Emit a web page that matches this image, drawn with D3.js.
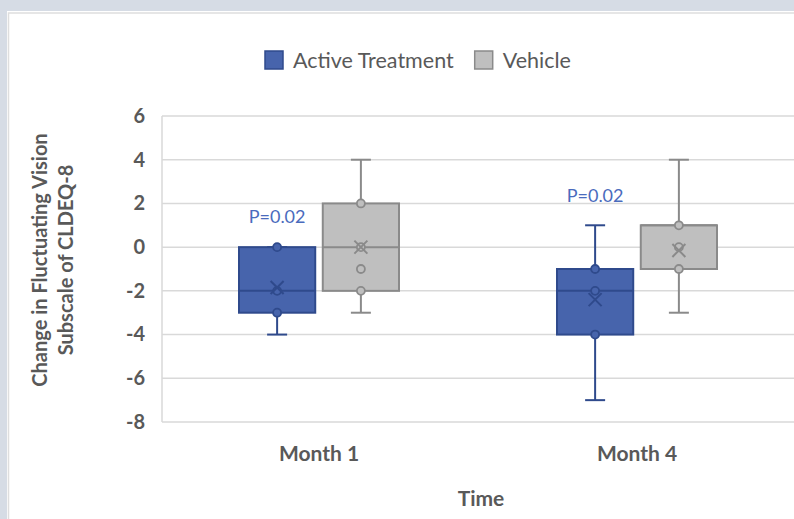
<!DOCTYPE html>
<html>
<head>
<meta charset="utf-8">
<script src="https://cdn.jsdelivr.net/npm/d3@7"></script>
<style>
  body { margin: 0; background: #d6dce5; }
  svg { display: block; }
</style>
</head>
<body>
<svg id="chart" width="794" height="519"></svg>
<script>
// Data
const categories = ["Month 1", "Month 4"];
const series = ["Active Treatment", "Vehicle"];
const yTicks = [6, 4, 2, 0, -2, -4, -6, -8];

const activeMin = [-4, -7];
const activeQ1 = [-3, -4];
const activeMedian = [-2, -2];
const activeQ3 = [0, -1];
const activeMax = [0, 1];
const activeMean = [-1.85, -2.4];
const activePoints = [[0, -2, -3], [-1, -2, -4]];

const vehicleMin = [-3, -3];
const vehicleQ1 = [-2, -1];
const vehicleMedian = [0, 1];
const vehicleQ3 = [2, 1];
const vehicleMax = [4, 4];
const vehicleMean = [0, -0.15];
const vehiclePoints = [[2, 0, -1, -2], [1, 0, -1]];

const pLabels = ["P=0.02", "P=0.02"];

const colors = {
    "Active Treatment": { fill: "#4764ac", stroke: "#2f4a8c" },
    "Vehicle": { fill: "#bfbfbf", stroke: "#8a8a8a" }
};

const font = "Lato, 'Open Sans', sans-serif";
const svg = d3.select("#chart");

// Panel
svg.append("rect").attr("x", 7).attr("y", 11).attr("width", 800).attr("height", 520).attr("fill", "#fff");
svg.append("rect").attr("x", 8.5).attr("y", 13).attr("width", 800).attr("height", 520)
    .attr("fill", "#fff").attr("stroke", "#dedede").attr("stroke-width", 1.5);

// Scales
const x = d3.scaleBand().domain(categories).range([160, 796]);
const y = d3.scaleLinear().domain([-8, 6]).range([422, 116]);
const xs = d3.scaleBand().domain(series).range([-80, 80]).paddingInner(0.09);

// Gridlines
svg.append("g").selectAll("line")
    .data(yTicks)
    .join("line")
    .attr("x1", 162).attr("x2", 800)
    .attr("y1", d => y(d)).attr("y2", d => y(d))
    .attr("stroke", "#d9d9d9").attr("stroke-width", 1.5);
svg.append("line").attr("x1", 162).attr("x2", 162)
    .attr("y1", y(6)).attr("y2", y(-8))
    .attr("stroke", "#d9d9d9").attr("stroke-width", 1.5);

// Y axis labels
const yAxis = svg.append("g")
    .attr("transform", "translate(152,0)")
    .call(d3.axisLeft(y).tickValues(yTicks).tickSize(0).tickPadding(0).tickFormat(d => String(d)));
yAxis.select(".domain").remove();
yAxis.selectAll("text")
    .attr("font-family", font).attr("font-size", 20).attr("font-weight", "bold")
    .attr("fill", "#595959").attr("dx", -7);

// X axis labels
const xAxis = svg.append("g")
    .attr("transform", "translate(0,446)")
    .call(d3.axisBottom(x).tickSize(0).tickPadding(0));
xAxis.select(".domain").remove();
xAxis.selectAll("text")
    .attr("font-family", font).attr("font-size", 21).attr("font-weight", "bold")
    .attr("fill", "#595959").attr("dy", "0.71em");

// Axis titles
svg.append("text")
    .attr("x", 481).attr("y", 506)
    .attr("text-anchor", "middle")
    .attr("font-family", font).attr("font-size", 21).attr("font-weight", "bold")
    .attr("fill", "#595959")
    .text("Time");

const yTitle = svg.append("text")
    .attr("transform", "translate(0,260) rotate(-90)")
    .attr("text-anchor", "middle")
    .attr("font-family", font).attr("font-size", 20).attr("font-weight", "bold")
    .attr("fill", "#595959");
yTitle.append("tspan").attr("x", 0).attr("y", 47).text("Change in Fluctuating Vision");
yTitle.append("tspan").attr("x", 0).attr("y", 73).text("Subscale of CLDEQ-8");

// Box data rows
const rows = [];
categories.forEach((c, i) => {
    rows.push({ cat: c, s: "Active Treatment", min: activeMin[i], q1: activeQ1[i], med: activeMedian[i],
        q3: activeQ3[i], max: activeMax[i], mean: activeMean[i], pts: activePoints[i] });
    rows.push({ cat: c, s: "Vehicle", min: vehicleMin[i], q1: vehicleQ1[i], med: vehicleMedian[i],
        q3: vehicleQ3[i], max: vehicleMax[i], mean: vehicleMean[i], pts: vehiclePoints[i] });
});

const cx = d => x(d.cat) + x.bandwidth() / 2 + xs(d.s) + xs.bandwidth() / 2;
const bw = xs.bandwidth();

const box = svg.append("g").selectAll("g")
    .data(rows)
    .join("g");

// Whiskers
box.append("line")
    .attr("x1", cx).attr("x2", cx)
    .attr("y1", d => y(d.max)).attr("y2", d => y(d.min))
    .attr("stroke", d => colors[d.s].stroke).attr("stroke-width", 2);
box.selectAll(".cap")
    .data(d => [d.min, d.max].map(v => ({ v, d })))
    .join("line")
    .attr("x1", o => cx(o.d) - 10).attr("x2", o => cx(o.d) + 10)
    .attr("y1", o => y(o.v)).attr("y2", o => y(o.v))
    .attr("stroke", o => colors[o.d.s].stroke).attr("stroke-width", 2);

// Box
box.append("rect")
    .attr("x", d => cx(d) - bw / 2).attr("width", bw)
    .attr("y", d => y(d.q3)).attr("height", d => y(d.q1) - y(d.q3))
    .attr("fill", d => colors[d.s].fill)
    .attr("stroke", d => colors[d.s].stroke).attr("stroke-width", 2);

// Median
box.append("line")
    .attr("x1", d => cx(d) - bw / 2).attr("x2", d => cx(d) + bw / 2)
    .attr("y1", d => y(d.med)).attr("y2", d => y(d.med))
    .attr("stroke", d => colors[d.s].stroke).attr("stroke-width", 2);

// Points
box.selectAll("circle")
    .data(d => d.pts.map(v => ({ v, d })))
    .join("circle")
    .attr("cx", o => cx(o.d)).attr("cy", o => y(o.v)).attr("r", 4)
    .attr("fill", o => colors[o.d.s].fill)
    .attr("stroke", o => colors[o.d.s].stroke).attr("stroke-width", 1.8);

// Mean marker (X)
box.append("path")
    .attr("d", d => {
        const mx = cx(d), my = y(d.mean), r = 6.5;
        return `M${mx - r},${my - r}L${mx + r},${my + r}M${mx - r},${my + r}L${mx + r},${my - r}`;
    })
    .attr("stroke", d => colors[d.s].stroke).attr("stroke-width", 2).attr("fill", "none");

// P-value labels above the active boxes
svg.append("g").selectAll("text")
    .data(rows.filter(d => d.s === "Active Treatment"))
    .join("text")
    .attr("x", cx)
    .attr("y", d => y(d.max) - 30)
    .attr("dy", "0.35em")
    .attr("text-anchor", "middle")
    .attr("font-family", font).attr("font-size", 18)
    .attr("fill", "#4a6bbd")
    .text((d, i) => pLabels[i]);

// Legend
const legend = svg.append("g").attr("transform", "translate(264,60)");
let lx = 0;
series.forEach(s => {
    legend.append("rect")
        .attr("x", lx + 1).attr("y", -9).attr("width", 18).attr("height", 18)
        .attr("fill", colors[s].fill).attr("stroke", colors[s].stroke).attr("stroke-width", 1.5);
    const t = legend.append("text")
        .attr("x", lx + 29).attr("y", 0).attr("dy", "0.35em")
        .attr("font-family", font).attr("font-size", 21.5)
        .attr("fill", "#595959")
        .text(s);
    lx += 29 + t.node().getComputedTextLength() + 20;
});
</script>
</body>
</html>
